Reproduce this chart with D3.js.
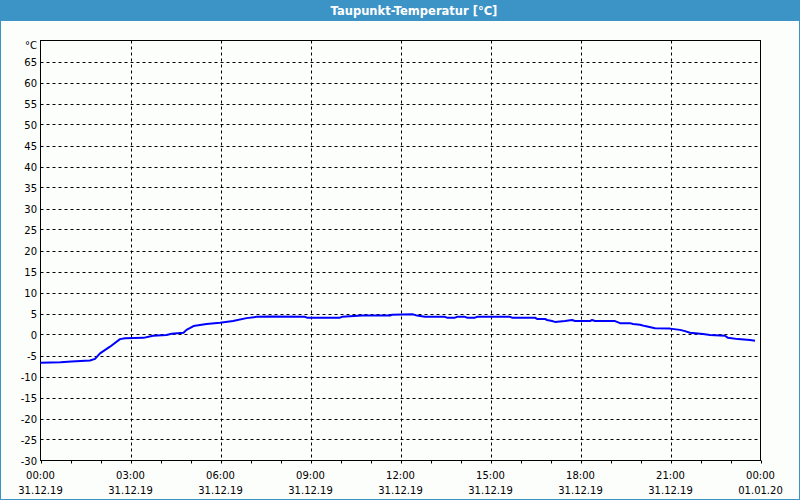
<!DOCTYPE html>
<html>
<head>
<meta charset="utf-8">
<script src="https://cdn.jsdelivr.net/npm/d3@7"></script>
<style>
  body { margin: 0; background: #fcfefc; }
  svg { display: block; }
</style>
</head>
<body>
<div id="chart"></div>
<script>
// minutes since 31.12.19 00:00 and dew point in °C
var minutes = [0, 40, 62, 99, 109, 119, 139, 159, 169, 206, 225, 252, 262, 286, 292, 306, 332, 359, 385, 412, 432,
  459, 529, 533, 599, 603, 643, 699, 703, 745, 753, 769, 809, 813, 829, 833, 849, 853, 869, 873, 939, 943,
  989, 993, 1009, 1013, 1023, 1029, 1049, 1063, 1069, 1099, 1103, 1109, 1149, 1153, 1159, 1179, 1185, 1199,
  1209, 1229, 1259, 1279, 1289, 1299, 1325, 1339, 1369, 1375, 1395, 1419, 1429]
var values = [-6.7, -6.6, -6.4, -6.2, -5.8, -4.5, -2.9, -1.1, -0.9, -0.8, -0.3, -0.1, 0.2, 0.4, 1.1, 2.0, 2.5, 2.8, 3.2, 3.9, 4.2,
  4.3, 4.2, 4.0, 4.0, 4.2, 4.5, 4.5, 4.7, 4.8, 4.5, 4.2, 4.2, 4.0, 4.0, 4.2, 4.2, 4.0, 4.0, 4.2, 4.2, 4.0,
  4.0, 3.7, 3.7, 3.45, 3.2, 3.0, 3.2, 3.45, 3.2, 3.2, 3.45, 3.2, 3.2, 3.0, 2.7, 2.7, 2.5, 2.3,
  2.0, 1.5, 1.4, 1.1, 0.8, 0.4, 0.1, -0.1, -0.3, -0.8, -1.1, -1.3, -1.5]
var yTicks = [-30, -25, -20, -15, -10, -5, 0, 5, 10, 15, 20, 25, 30, 35, 40, 45, 50, 55, 60, 65]
var title = "Taupunkt-Temperatur [°C]"
var unit = "°C"

var W = 800, H = 500
var start = new Date(2019, 11, 31, 0, 0)
var end = new Date(2020, 0, 1, 0, 0)

var data = minutes.map((m, i) => ({ t: new Date(start.getTime() + m * 60000), v: values[i] }))

var x = d3.scaleTime().domain([start, end]).range([40.5, 760.5])
var y = d3.scaleLinear().domain([-30, 70]).range([460.5, 40.5])

var svg = d3.select("#chart").append("svg")
  .attr("width", W)
  .attr("height", H)
  .style("font-family", "'DejaVu Sans', sans-serif")

svg.append("rect").attr("width", W).attr("height", H).attr("fill", "#fcfefc")

// window frame + title bar
svg.append("rect")
  .attr("x", 0.5).attr("y", 0.5).attr("width", W - 1).attr("height", H - 1)
  .attr("fill", "none").attr("stroke", "#3c93c6")
svg.append("rect").attr("width", W).attr("height", 21).attr("fill", "#3c93c6")
svg.append("text")
  .attr("x", 414).attr("y", 15)
  .attr("text-anchor", "middle")
  .attr("fill", "#fff")
  .style("font-size", "11.5px")
  .style("font-weight", "bold")
  .text(title)

// grid
var hGrid = yTicks.filter(d => d > -30)
svg.append("g").selectAll("line").data(hGrid).join("line")
  .attr("x1", x.range()[0]).attr("x2", x.range()[1])
  .attr("y1", d => Math.round(y(d)) + 0.5).attr("y2", d => Math.round(y(d)) + 0.5)
  .attr("stroke", "#000").attr("stroke-dasharray", "3,3")

var vTicks = d3.timeHour.every(3).range(start, end).slice(1)
svg.append("g").selectAll("line").data(vTicks).join("line")
  .attr("x1", d => Math.round(x(d)) + 0.5).attr("x2", d => Math.round(x(d)) + 0.5)
  .attr("y1", y.range()[1]).attr("y2", y.range()[0])
  .attr("stroke", "#000").attr("stroke-dasharray", "3,3")

// hourly ticks under axis
svg.append("g").selectAll("line").data(d3.timeHour.range(start, d3.timeHour.offset(end, 1))).join("line")
  .attr("x1", d => Math.round(x(d)) + 0.5).attr("x2", d => Math.round(x(d)) + 0.5)
  .attr("y1", y.range()[0]).attr("y2", y.range()[0] + 3)
  .attr("stroke", "#000")

// frame
svg.append("rect")
  .attr("x", x.range()[0]).attr("y", y.range()[1])
  .attr("width", x.range()[1] - x.range()[0])
  .attr("height", y.range()[0] - y.range()[1])
  .attr("fill", "none").attr("stroke", "#000")

// y labels
svg.append("g").selectAll("text").data(yTicks).join("text")
  .attr("x", 37).attr("y", d => y(d) + 4)
  .attr("text-anchor", "end")
  .style("font-size", "10px")
  .attr("fill", "#000")
  .text(d => d)
svg.append("text").attr("x", 37).attr("y", 49)
  .attr("text-anchor", "end").style("font-size", "10px").text(unit)

// x labels
var xLab = d3.timeHour.every(3).range(start, d3.timeHour.offset(end, 1))
var fmtT = d3.timeFormat("%H:%M"), fmtD = d3.timeFormat("%d.%m.%y")
var xl = svg.append("g").selectAll("g").data(xLab).join("g")
  .attr("transform", d => "translate(" + x(d) + ",0)")
xl.append("text").attr("y", 479).attr("text-anchor", "middle").style("font-size", "10px").text(fmtT)
xl.append("text").attr("y", 494).attr("text-anchor", "middle").style("font-size", "10px").text(fmtD)

// line
var line = d3.line().x(d => x(d.t)).y(d => y(d.v))
svg.append("path")
  .datum(data)
  .attr("d", line)
  .attr("fill", "none")
  .attr("stroke", "#0000ff")
  .attr("stroke-width", 2)
  .attr("stroke-linejoin", "round")
</script>
</body>
</html>
